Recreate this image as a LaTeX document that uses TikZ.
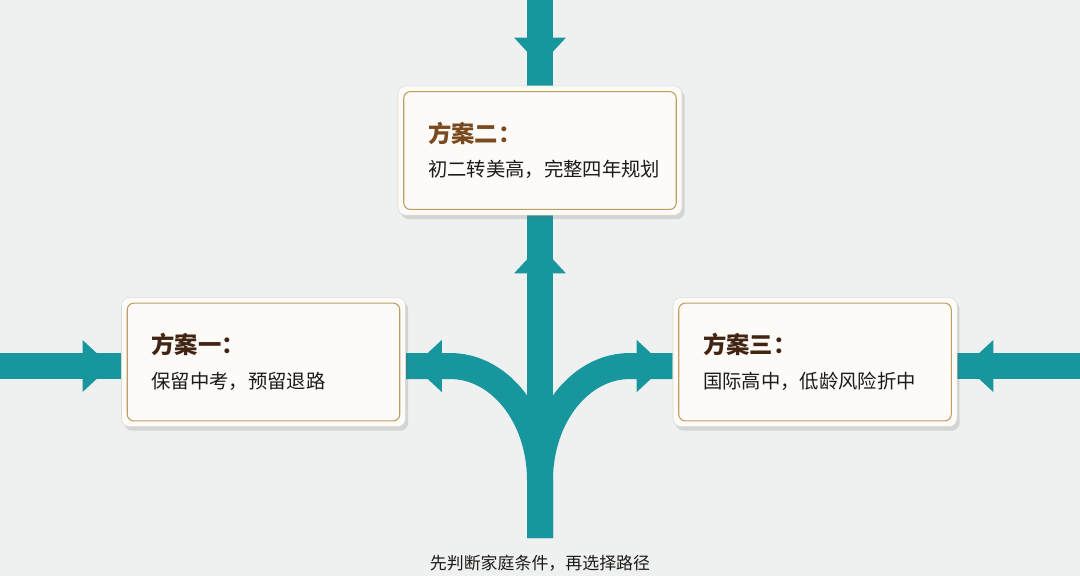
\documentclass[tikz,border=0pt]{standalone}
\usepackage{fontspec}
\setmainfont{Noto Sans CJK SC}
\usetikzlibrary{shadows,decorations.markings,backgrounds,calc}

\definecolor{pagebg}{RGB}{239,240,240}
\definecolor{flowteal}{RGB}{24,150,157}
\definecolor{cardfill}{RGB}{252,251,248}
\definecolor{cardedge}{RGB}{220,218,210}
\definecolor{goldline}{RGB}{190,158,100}
\definecolor{titlebrown}{RGB}{66,36,18}
\definecolor{titlegold}{RGB}{122,74,30}
\definecolor{bodyink}{RGB}{30,26,24}

\newcommand{\plantitle}[2]{{\fontsize{17.5}{26}\selectfont\bfseries\color{#1}#2}}

\tikzset{
  plan/.style={rounded corners=6pt, fill=cardfill, draw=cardedge, line width=0.4pt,
    text width=168pt, inner xsep=22.5pt, minimum height=97pt, align=left,
    font=\fontsize{14.5}{26}\selectfont, text=bodyink,
    drop shadow={shadow xshift=2pt, shadow yshift=-3pt, opacity=0.2, fill=black!60}},
  flow/.style={draw=flowteal, line width=19.5pt},
  headat/.style={postaction={decorate}, decoration={markings,
    mark=at position #1 with {\fill[flowteal] (0pt,0pt) -- (-21pt,19.5pt) -- (-21pt,-19.5pt) -- cycle;}}},
}

\begin{document}
\begin{tikzpicture}[x=0.75pt,y=0.75pt,yscale=-1,xscale=1]
  \useasboundingbox (0,0) rectangle (1080,576);

  % Plan cards
  \node[plan] (plan2) at (540,150.5) {\plantitle{titlegold}{方案二：}\\初二转美高，完整四年规划};
  \node[plan] (plan1) at (263.5,362) {\plantitle{titlebrown}{方案一：}\\保留中考，预留退路};
  \node[plan] (plan3) at (815,362) {\plantitle{titlebrown}{方案三：}\\国际高中，低龄风险折中};
  \foreach \p in {plan1,plan2,plan3}
    \draw[goldline, line width=0.8pt, rounded corners=5pt] ($(\p.north west)+(6,6)$) rectangle ($(\p.south east)+(-6,-6)$);

  % Text Node
  \node[font=\fontsize{12.7}{15}\selectfont, text=bodyink] (caption) at (540,563) {先判断家庭条件，再选择路径};

  \begin{scope}[on background layer]
    \fill[pagebg] (0,0) rectangle (1080,576);
    \coordinate (topin) at (540,-2);
    \coordinate (root) at (540,538);
    \coordinate (fork) at (540,366);
    \coordinate (leftin) at (-2,366);
    \coordinate (rightin) at (1082,366);

    % Flow arrows
    \draw[flow, headat=-15pt] (topin) -- (plan2.north);
    \draw[flow, headat=-22.5pt] (root) -- (plan2.south);
    \draw[flow, headat=-6pt] (root) -- (540,480) .. controls (540,417) and (500,366) .. (450,366) -- (plan1.east |- fork);
    \draw[flow, headat=-6pt] (root) -- (540,480) .. controls (540,417) and (580,366) .. (630,366) -- (plan3.west |- fork);
    \draw[flow, headat=-8pt] (leftin) -- (plan1.west |- fork);
    \draw[flow, headat=-6pt] (rightin) -- (plan3.east |- fork);
  \end{scope}
\end{tikzpicture}
\end{document}
